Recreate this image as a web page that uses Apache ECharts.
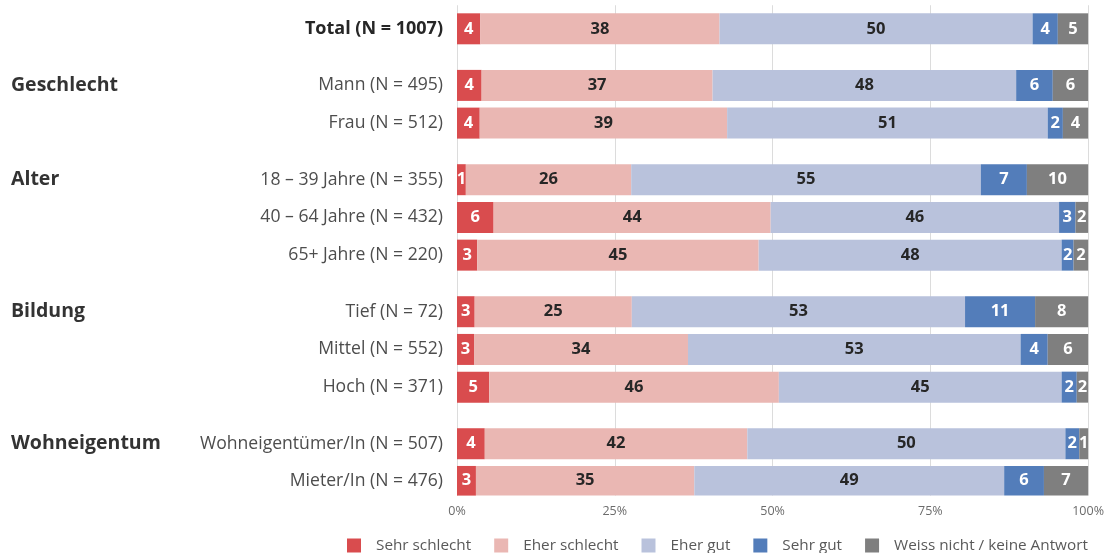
<!DOCTYPE html>
<html>
<head>
<meta charset="utf-8">
<script src="https://cdn.jsdelivr.net/npm/echarts@6/dist/echarts.min.js"></script>
<style>html,body{margin:0;padding:0;background:#fff;}#c{width:1107px;height:553px;}</style>
</head>
<body>
<div id="c"></div>
<script>
// ---- data ----
const groupNames = ['', 'Geschlecht', 'Alter', 'Bildung', 'Wohneigentum'];
const groupRows = [
  ['Total (N = 1007)'],
  ['Mann (N = 495)', 'Frau (N = 512)'],
  ['18 – 39 Jahre (N = 355)', '40 – 64 Jahre (N = 432)', '65+ Jahre (N = 220)'],
  ['Tief (N = 72)', 'Mittel (N = 552)', 'Hoch (N = 371)'],
  ['Wohneigentümer/In (N = 507)', 'Mieter/In (N = 476)']
];
const seriesNames = ['Sehr schlecht', 'Eher schlecht', 'Eher gut', 'Sehr gut', 'Weiss nicht / keine Antwort'];
// values in row order: Total, Mann, Frau, 18-39, 40-64, 65+, Tief, Mittel, Hoch, Wohneigentümer, Mieter
const sehrSchlecht = [3.7, 3.9, 3.6, 1.4, 5.8, 3.2, 2.8, 2.7, 5.1, 4.4, 3.0];
const eherSchlecht = [37.9, 36.6, 39.2, 26.2, 43.9, 44.6, 24.9, 33.9, 45.9, 41.6, 34.6];
const eherGut      = [49.6, 48.1, 50.8, 55.4, 45.7, 48.0, 52.8, 52.7, 44.8, 50.4, 49.1];
const sehrGut      = [4.0, 5.8, 2.4, 7.3, 2.6, 1.9, 11.1, 4.3, 2.4, 2.2, 6.3];
const weissNicht   = [4.8, 5.6, 4.0, 9.7, 2.0, 2.3, 8.4, 6.4, 1.8, 1.4, 7.0];
const xTicks = [0, 25, 50, 75, 100];

// ---- layout of category slots (rows + spacer slots) ----
const colors = ['#d94c4e', '#eab7b3', '#b9c2dc', '#537dba', '#7f7f7f'];
const labelColors = ['#ffffff', '#262626', '#262626', '#ffffff', '#ffffff'];
const values = [sehrSchlecht, eherSchlecht, eherGut, sehrGut, weissNicht];

const rowCats = [], groupCats = [], rowSlot = [];
groupRows.forEach((rows, g) => {
  if (g > 0) { rowCats.push('', ''); groupCats.push('', ''); }
  rows.forEach((r, i) => {
    rowCats.push('', '');
    groupCats.push('', '');
    rowSlot.push(rowCats.length);
    rowCats.push(g === 0 ? {value: r, textStyle: {fontWeight: 'bold', color: '#262626', fontSize: 18}} : r);
    groupCats.push(i === 0 ? groupNames[g] : '');
    rowCats.push('');
    groupCats.push('');
  });
});
const nSlots = rowCats.length;
const yData = rowCats.map((c, i) => (c === '' ? ' '.repeat(i + 1) : c));
const yData2 = groupCats.map((c, i) => (c === '' ? ' '.repeat(i + 1) : c));

const series = seriesNames.map((name, s) => {
  const data = new Array(nSlots).fill(null);
  values[s].forEach((v, k) => { data[rowSlot[k]] = v; });
  return {
    name, type: 'bar', stack: 'all', barWidth: 31, yAxisIndex: 0,
    itemStyle: {color: colors[s]},
    label: {
      show: true, position: 'inside',
      formatter: p => Math.round(p.value),
      color: labelColors[s], fontSize: 16.5, fontWeight: 'bold',
      fontFamily: 'Open Sans'
    },
    emphasis: {disabled: true},
    data
  };
});

const chart = echarts.init(document.getElementById('c'), null, {renderer: 'canvas'});
chart.setOption({
  animation: false,
  textStyle: {fontFamily: 'Open Sans'},
  grid: {left: 457, right: 17, top: 0, height: 495.6, containLabel: false},
  legend: {
    data: seriesNames, left: 347, top: 538, padding: 0,
    itemWidth: 14, itemHeight: 14, itemGap: 23, icon: 'rect',
    textStyle: {fontSize: 15.3, color: '#595959', padding: [0, 0, 0, 10], fontFamily: 'Open Sans'}
  },
  xAxis: {
    type: 'value', min: xTicks[0], max: xTicks[xTicks.length - 1], interval: 25,
    axisLine: {show: false}, axisTick: {show: false},
    splitLine: {lineStyle: {color: '#dcdcdc', width: 1}},
    axisLabel: {formatter: '{value}%', color: '#6b6b6b', fontSize: 12.5, margin: 9}
  },
  yAxis: [
    {
      type: 'category', inverse: true, data: yData,
      axisLine: {show: false}, axisTick: {show: false}, splitLine: {show: false},
      axisLabel: {interval: 0, color: '#4d4d4d', fontSize: 17.6, margin: 14}
    },
    {
      type: 'category', inverse: true, data: yData2, position: 'left', offset: 446,
      axisLine: {show: false}, axisTick: {show: false}, splitLine: {show: false},
      axisLabel: {interval: 0, color: '#333333', fontSize: 19.5, fontWeight: 'bold', align: 'left', margin: 0}
    }
  ],
  series
});
</script>
</body>
</html>
